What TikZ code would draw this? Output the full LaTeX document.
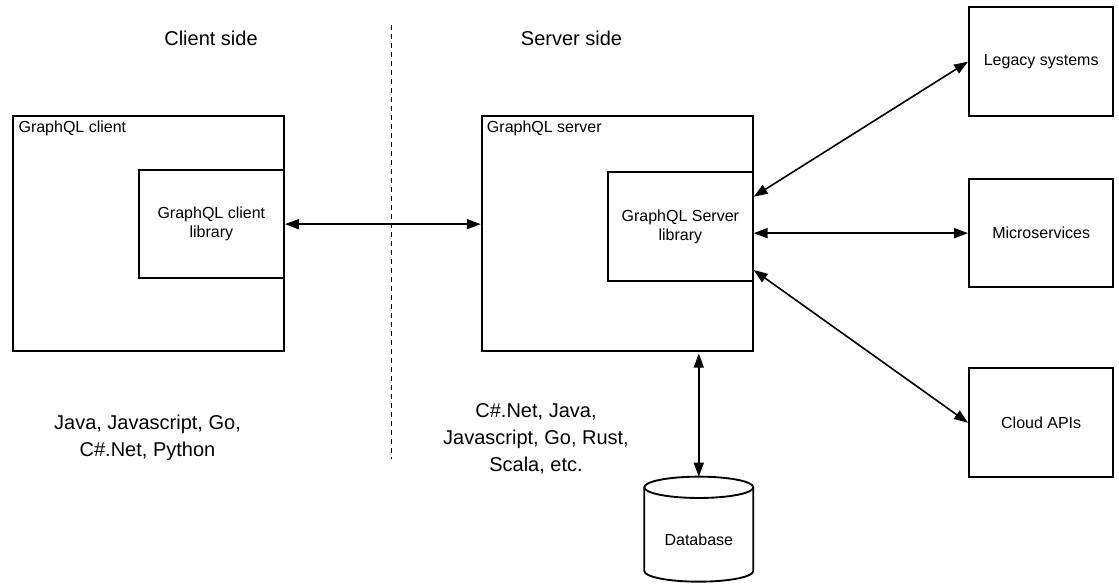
\documentclass[tikz,border=0pt]{standalone}
\usepackage{fontspec}
\setmainfont{Liberation Sans}
\usetikzlibrary{arrows.meta,fit,calc}
\begin{document}
\begin{tikzpicture}[x=0.75pt,y=-0.75pt,
  box/.style={draw, line width=1.4pt, inner sep=0pt},
  boxtext/.style={font=\fontsize{12pt}{14.25pt}\selectfont, align=center, inner sep=0pt},
  bigtext/.style={font=\fontsize{15pt}{20.25pt}\selectfont, align=center, inner sep=0pt},
  conn/.style={line width=1.2pt, {Triangle[length=10.5pt,width=7.5pt]}-{Triangle[length=10.5pt,width=7.5pt]}},
  divider/.style={line width=1pt, dash pattern=on 3.75pt off 3pt}]
\useasboundingbox (0,0) rectangle (1119,583);

% boxes
\node[box, fit={(12.7,115.7) (284,350.7)}] (client) {};
\node[box, fit={(138.7,170) (284,278.3)}] (clientlib) {};
\node[box, fit={(481.7,115.7) (752.7,350.7)}] (server) {};
\node[box, fit={(608,172) (752.7,281)}] (serverlib) {};
\node[box, fit={(969,7.3) (1113.3,116)}] (legacy) {};
\node[box, fit={(969,179) (1113.3,287.3)}] (micro) {};
\node[box, fit={(969,368.3) (1113.3,477.3)}] (cloud) {};

% box texts
\node[boxtext, anchor=west] (clientlbl) at (18.3,128) {GraphQL client};
\node[boxtext, anchor=west] (serverlbl) at (486.7,128.3) {GraphQL server};
\node[boxtext] (clientlibtxt) at (clientlib.center) {GraphQL client\\library};
\node[boxtext] (serverlibtxt) at (serverlib.center) {GraphQL Server\\library};
\node[boxtext] (legacytxt) at (legacy.center) {Legacy systems};
\node[boxtext] (microtxt) at (micro.center) {Microservices};
\node[boxtext] (cloudtxt) at (cloud.center) {Cloud APIs};

% database
\draw[box] (644.3,487.3) -- (644.3,571)
  arc[start angle=180, end angle=360, x radius=40.875pt, y radius=8pt]
  -- (753.3,487.3);
\draw[box] (698.8,487.3) ellipse [x radius=40.875pt, y radius=8pt];
\node[boxtext] (db) at (698.8,540) {Database};
\coordinate (dbtop) at (698.8,476.7);

% headers and language lists
\node[bigtext] (clienthdr) at (211,38) {Client side};
\node[bigtext] (serverhdr) at (571.5,38) {Server side};
\node[bigtext] (clientlang) at (147.5,438) {Java, Javascript, Go,\\C\#.Net, Python};
\node[bigtext] (serverlang) at (536,438.3) {C\#.Net, Java,\\Javascript, Go, Rust,\\Scala, etc.};

% divider
\coordinate (divtop) at (391.7,25);
\coordinate (divbot) at (391.7,459);
\draw[divider] (divtop) -- (divbot);

% connectors
\draw[conn] (clientlib.east) -- (server.west |- clientlib.east);
\draw[conn] ([yshift=22.35pt]serverlib.east) -- (legacy.west);
\draw[conn] (serverlib.east |- micro.west) -- (micro.west);
\draw[conn] ([yshift=-32.6pt]serverlib.east) -- (cloud.west);
\draw[conn] ([yshift=-1.5pt]server.south -| dbtop) -- (dbtop);
\end{tikzpicture}
\end{document}
